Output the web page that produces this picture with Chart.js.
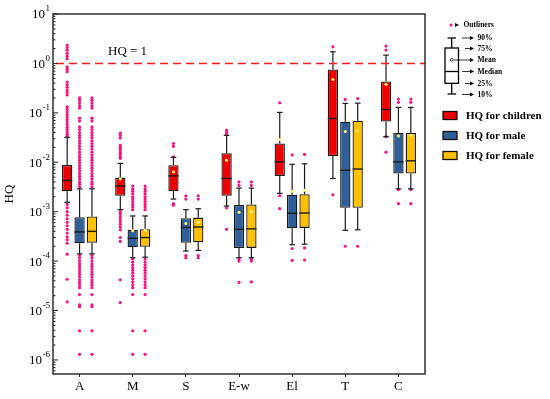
<!DOCTYPE html>
<html>
<head>
<meta charset="utf-8">
<script src="https://cdn.jsdelivr.net/npm/chart.js@4.4.0/dist/chart.umd.min.js"></script>
<style>
  html, body { margin: 0; background: #fff; }
  #wrap { width: 550px; height: 399px; }
</style>
</head>
<body>
<div id="wrap"><canvas id="grafico"></canvas></div>
<script>
const categories = ["A", "M", "S", "E-w", "El", "T", "C"];

// children
const childP10 = [1.55e-3, 1.1e-3, 1.8e-3, 1.3e-3, 2.35e-3, 4.7e-3, 0.033];
const childQ1 = [2.6e-3, 2.1e-3, 2.6e-3, 2.1e-3, 5.3e-3, 0.0133, 0.067];
const childMedian = [4.3e-3, 3.3e-3, 5.3e-3, 4.7e-3, 0.0102, 0.077, 0.117];
const childQ3 = [8.8e-3, 4.9e-3, 8.7e-3, 0.0153, 0.024, 0.757, 0.433];
const childP90 = [0.032, 9.5e-3, 0.0126, 0.035, 0.102, 1.72, 1.47];
const childMean = [null, 4.6e-3, 6.4e-3, 0.011, 0.029, 0.475, 0.38];
const childOutliers = [
  [2.35, 2.1, 1.85, 1.6, 1.4, 1.25, 0.85, 0.76, 0.68, 0.42, 0.37, 0.33, 0.29, 0.26, 0.23,
   0.133, 0.118, 0.104, 0.092, 0.082, 0.073, 0.065, 0.058, 0.051, 0.046, 0.041, 0.037, 0.034,
   1.4e-3, 1.2e-3, 1.0e-3, 8.5e-4, 7.2e-4, 6.1e-4, 5.2e-4, 4.4e-4, 3.7e-4, 3.1e-4, 2.7e-4, 2.3e-4,
   1.38e-4, 4.3e-5, 1.5e-5],
  [0.039, 0.035, 0.031, 0.022, 0.02, 0.018, 0.016, 0.0145, 0.013, 0.012,
   1.0e-3, 9.0e-4, 8.0e-4, 7.1e-4, 6.3e-4, 5.6e-4, 4.9e-4, 4.3e-4, 3.0e-4, 2.5e-4, 4.2e-5, 1.45e-5],
  [0.024, 0.021, 0.0128, 1.45e-3, 1.35e-3],
  [0.045, 0.041, 0.037, 1.2e-3, 4.4e-4],
  [0.16, 2.1e-3, 1.15e-3],
  [2.17, 2.2e-3],
  [2.24, 1.86, 0.033, 0.016]
];

// male
const maleP10 = [1.4e-4, 1.17e-4, 1.6e-4, 1.17e-4, 2.15e-4, 4.2e-4, 2.9e-3];
const maleQ1 = [2.3e-4, 1.9e-4, 2.35e-4, 1.85e-4, 4.6e-4, 1.2e-3, 5.9e-3];
const maleMedian = [3.9e-4, 2.9e-4, 4.8e-4, 4.4e-4, 9.3e-4, 6.9e-3, 0.0102];
const maleQ3 = [7.7e-4, 4.3e-4, 7.4e-4, 1.36e-3, 2.2e-3, 0.066, 0.039];
const maleP90 = [2.9e-3, 8.2e-4, 1.1e-3, 3.0e-3, 9.1e-3, 0.155, 0.129];
const maleMean = [null, 4.1e-4, 5.8e-4, 9.8e-4, 2.6e-3, 0.042, 0.034];
const maleOutliers = [
  [0.2, 0.18, 0.16, 0.14, 0.125, 0.078, 0.068, 0.052, 0.046, 0.04, 0.035, 0.031, 0.027, 0.024,
   0.021, 0.0185, 0.016, 0.014, 0.0125, 0.011, 0.0097, 0.0086, 0.0076, 0.0067, 0.0059, 0.0052,
   0.0046, 0.004, 0.0036, 0.0032,
   1.3e-4, 1.15e-4, 1.0e-4, 8.8e-5, 7.8e-5, 6.9e-5, 6.1e-5, 5.4e-5, 4.8e-5, 4.2e-5, 3.7e-5,
   3.3e-5, 2.9e-5, 2.1e-5, 1.3e-5, 1.2e-5, 3.9e-6, 1.3e-6],
  [3.3e-3, 2.9e-3, 2.6e-3, 2.3e-3, 2.0e-3, 1.8e-3, 1.6e-3, 1.4e-3, 1.25e-3, 1.1e-3,
   1.1e-4, 9.6e-5, 8.4e-5, 7.4e-5, 6.5e-5, 5.7e-5, 5.0e-5, 4.4e-5, 3.8e-5, 3.3e-5, 2.9e-5,
   2.1e-5, 3.9e-6, 1.3e-6],
  [2.1e-3, 1.8e-3, 1.3e-4, 1.17e-4],
  [4.0e-3, 3.4e-3, 1.1e-4, 1.0e-4, 3.7e-5],
  [0.0141, 1.8e-4, 1.04e-4],
  [0.187, 2.0e-4],
  [0.19, 0.163, 2.8e-3, 1.45e-3]
];

// female
const femaleP10 = [1.4e-4, 1.2e-4, 1.65e-4, 1.17e-4, 2.2e-4, 4.3e-4, 2.9e-3];
const femaleQ1 = [2.35e-4, 1.95e-4, 2.4e-4, 1.85e-4, 4.7e-4, 1.2e-3, 5.9e-3];
const femaleMedian = [4.0e-4, 3.0e-4, 4.9e-4, 4.5e-4, 9.4e-4, 7.3e-3, 0.0107];
const femaleQ3 = [8.0e-4, 4.4e-4, 7.6e-4, 1.4e-3, 2.25e-3, 0.069, 0.039];
const femaleP90 = [2.9e-3, 8.2e-4, 1.15e-3, 3.0e-3, 9.3e-3, 0.157, 0.129];
const femaleMean = [null, 4.2e-4, 6.1e-4, 1.0e-3, 2.7e-3, 0.043, 0.035];
const femaleOutliers = [
  [0.2, 0.18, 0.16, 0.14, 0.125, 0.078, 0.068, 0.052, 0.046, 0.04, 0.035, 0.031, 0.027, 0.024,
   0.021, 0.0185, 0.016, 0.014, 0.0125, 0.011, 0.0097, 0.0086, 0.0076, 0.0067, 0.0059, 0.0052,
   0.0046, 0.004, 0.0036, 0.0032,
   1.3e-4, 1.15e-4, 1.0e-4, 8.8e-5, 7.8e-5, 6.9e-5, 6.1e-5, 5.4e-5, 4.8e-5, 4.2e-5, 3.7e-5,
   3.3e-5, 2.9e-5, 2.1e-5, 1.3e-5, 1.2e-5, 3.9e-6, 1.3e-6],
  [3.3e-3, 2.9e-3, 2.6e-3, 2.3e-3, 2.0e-3, 1.8e-3, 1.6e-3, 1.4e-3, 1.25e-3, 1.1e-3,
   1.1e-4, 9.6e-5, 8.4e-5, 7.4e-5, 6.5e-5, 5.7e-5, 5.0e-5, 4.4e-5, 3.8e-5, 3.3e-5, 2.9e-5,
   2.1e-5, 3.9e-6, 1.3e-6],
  [2.1e-3, 1.8e-3, 1.3e-4, 1.17e-4],
  [4.0e-3, 3.4e-3, 1.1e-4, 1.0e-4, 3.8e-5],
  [0.0145, 1.85e-4, 1.05e-4],
  [0.195, 2.0e-4],
  [0.19, 0.163, 2.8e-3, 1.45e-3]
];

const yTickValues = [1e-6, 1e-5, 1e-4, 1e-3, 1e-2, 1e-1, 1e0, 1e1];
const yTickExponents = ["-6", "-5", "-4", "-3", "-2", "-1", "0", "1"];
const yMin = 5.2e-7;
const yMax = 10;
const hqLimit = 1;

const serif = "'Liberation Serif', 'Times New Roman', serif";
const seriesNames = ["HQ for children", "HQ for male", "HQ for female"];
const seriesColors = ["#ee0000", "#2f5f98", "#ffc000"];
const outlierColor = "#f5137f";
const meanColor = "#ffff70";

const grupos = [
  { p10: childP10, q1: childQ1, med: childMedian, q3: childQ3, p90: childP90, mean: childMean, out: childOutliers },
  { p10: maleP10, q1: maleQ1, med: maleMedian, q3: maleQ3, p90: maleP90, mean: maleMean, out: maleOutliers },
  { p10: femaleP10, q1: femaleQ1, med: femaleMedian, q3: femaleQ3, p90: femaleP90, mean: femaleMean, out: femaleOutliers }
];

function linha(ctx, x1, y1, x2, y2) {
  ctx.beginPath();
  ctx.moveTo(x1, y1);
  ctx.lineTo(x2, y2);
  ctx.stroke();
}

function seta(ctx, x1, x2, y) {
  linha(ctx, x1, y, x2 - 3, y);
  ctx.beginPath();
  ctx.moveTo(x2, y);
  ctx.lineTo(x2 - 4, y - 2);
  ctx.lineTo(x2 - 4, y + 2);
  ctx.closePath();
  ctx.fill();
}

const boxPlugin = {
  id: "boxes",
  beforeDatasetsDraw(chart) {
    const ctx = chart.ctx;
    const y = chart.scales.y;
    ctx.save();
    ctx.fillStyle = outlierColor;
    grupos.forEach((g, di) => {
      chart.getDatasetMeta(di).data.forEach((bar, i) => {
        g.out[i].forEach(v => {
          ctx.beginPath();
          ctx.arc(bar.x, y.getPixelForValue(v), 1.6, 0, Math.PI * 2);
          ctx.fill();
        });
      });
    });
    ctx.restore();
  },
  afterDatasetsDraw(chart) {
    const ctx = chart.ctx;
    const y = chart.scales.y;
    ctx.save();
    grupos.forEach((g, di) => {
      chart.getDatasetMeta(di).data.forEach((bar, i) => {
        const x = bar.x;
        const w = bar.width;
        ctx.strokeStyle = "#1a1a1a";
        ctx.lineWidth = 1.2;
        const yq1 = y.getPixelForValue(g.q1[i]);
        const yq3 = y.getPixelForValue(g.q3[i]);
        const y10 = y.getPixelForValue(g.p10[i]);
        const y90 = y.getPixelForValue(g.p90[i]);
        linha(ctx, x, yq3, x, y90);
        linha(ctx, x - 2.8, y90, x + 2.8, y90);
        linha(ctx, x, yq1, x, y10);
        linha(ctx, x - 2.8, y10, x + 2.8, y10);
        ctx.lineWidth = 1.4;
        const ym = y.getPixelForValue(g.med[i]);
        linha(ctx, x - w / 2, ym, x + w / 2, ym);
        if (g.mean[i] !== null) {
          ctx.fillStyle = meanColor;
          ctx.beginPath();
          ctx.arc(x, y.getPixelForValue(g.mean[i]), 1.5, 0, Math.PI * 2);
          ctx.fill();
        }
      });
    });
    ctx.restore();
  },
  afterDraw(chart) {
    const ctx = chart.ctx;
    const a = chart.chartArea;
    const y = chart.scales.y;
    ctx.save();

    // linha HQ = 1
    const yh = Math.round(y.getPixelForValue(hqLimit)) + 0.5;
    ctx.strokeStyle = "#ff1a1a";
    ctx.lineWidth = 1.5;
    ctx.setLineDash([8, 5]);
    linha(ctx, a.left + 3, yh, a.right, yh);
    ctx.setLineDash([]);
    ctx.fillStyle = "#000";
    ctx.font = "13px " + serif;
    ctx.textAlign = "left";
    ctx.textBaseline = "middle";
    ctx.fillText("HQ = 1", 108, 52);

    // moldura
    ctx.strokeStyle = "#222";
    ctx.lineWidth = 1.4;
    ctx.strokeRect(a.left, a.top, a.right - a.left, a.bottom - a.top);

    // ticks do eixo y (para dentro) e rótulos
    ctx.lineWidth = 1;
    for (let d = -7; d <= 1; d++) {
      for (let k = 1; k <= 9; k++) {
        const v = k * Math.pow(10, d);
        if (v < yMin || v > yMax) continue;
        const py = y.getPixelForValue(v);
        linha(ctx, a.left, py, a.left + (k === 1 ? 5 : 2.5), py);
      }
    }
    yTickValues.forEach((v, i) => {
      const py = y.getPixelForValue(v);
      ctx.font = "9px " + serif;
      ctx.textAlign = "right";
      ctx.textBaseline = "middle";
      const ew = ctx.measureText(yTickExponents[i]).width;
      ctx.fillText(yTickExponents[i], a.left - 3, py - 5);
      ctx.font = "13px " + serif;
      ctx.fillText("10", a.left - 3 - ew - 0.5, py + 1);
    });

    // legenda do box
    ctx.fillStyle = outlierColor;
    ctx.beginPath();
    ctx.arc(451, 25, 1.5, 0, Math.PI * 2);
    ctx.fill();
    ctx.fillStyle = "#000";
    ctx.beginPath();
    ctx.moveTo(459, 25);
    ctx.lineTo(455, 23);
    ctx.lineTo(455, 27);
    ctx.closePath();
    ctx.fill();
    ctx.strokeStyle = "#000";
    ctx.lineWidth = 1.3;
    linha(ctx, 451.7, 38, 451.7, 48);
    linha(ctx, 451.7, 83.3, 451.7, 94);
    linha(ctx, 447.5, 38, 456, 38);
    linha(ctx, 447.5, 94, 456, 94);
    ctx.strokeRect(445, 48, 13.5, 35.3);
    linha(ctx, 445, 71.5, 458.5, 71.5);
    ctx.lineWidth = 0.8;
    ctx.beginPath();
    ctx.arc(451.7, 59.8, 1.4, 0, Math.PI * 2);
    ctx.stroke();
    seta(ctx, 462, 474, 38);
    seta(ctx, 465, 474, 48.5);
    seta(ctx, 453.5, 474, 60);
    seta(ctx, 462, 474, 71.5);
    seta(ctx, 465, 474, 83.5);
    seta(ctx, 462, 474, 94.5);
    ctx.font = "bold 7.5px " + serif;
    ctx.textAlign = "left";
    ctx.textBaseline = "middle";
    ctx.fillText("Outliners", 463.5, 25.5);
    ctx.fillText("90%", 477.5, 38.5);
    ctx.fillText("75%", 477.5, 49);
    ctx.fillText("Mean", 477.5, 60.5);
    ctx.fillText("Median", 477.5, 72);
    ctx.fillText("25%", 477.5, 84);
    ctx.fillText("10%", 477.5, 95);

    // legenda das séries
    seriesNames.forEach((nome, i) => {
      const ly = 111.5 + i * 20;
      ctx.fillStyle = seriesColors[i];
      ctx.fillRect(443, ly, 14, 8);
      ctx.strokeStyle = "#111";
      ctx.lineWidth = 1.3;
      ctx.strokeRect(443, ly, 14, 8);
      ctx.fillStyle = "#000";
      ctx.font = "bold 11px " + serif;
      ctx.fillText(nome, 466, ly + 4.5);
    });

    ctx.restore();
  }
};

const datasets = grupos.map((g, i) => ({
  label: seriesNames[i],
  data: g.q1.map((v, j) => [v, g.q3[j]]),
  backgroundColor: seriesColors[i],
  borderColor: "#1a1a1a",
  borderWidth: 1.3,
  borderSkipped: false,
  categoryPercentage: 0.70,
  barPercentage: 0.83
}));

new Chart(document.getElementById("grafico"), {
  type: "bar",
  data: { labels: categories, datasets: datasets },
  options: {
    responsive: true,
    maintainAspectRatio: false,
    animation: false,
    layout: { padding: { left: 0, top: 14, right: 125, bottom: 0 } },
    plugins: {
      legend: { display: false },
      tooltip: { enabled: false }
    },
    scales: {
      x: {
        type: "category",
        offset: true,
        grid: { drawOnChartArea: false, offset: false, tickLength: 3, color: "#222" },
        border: { display: false },
        ticks: { color: "#000", font: { family: serif, size: 13 }, padding: 2 },
        afterFit: s => { s.height = 25; }
      },
      y: {
        type: "logarithmic",
        min: yMin,
        max: yMax,
        afterBuildTicks: s => { s.ticks = yTickValues.map(v => ({ value: v })); },
        grid: { display: false },
        border: { display: false },
        ticks: { display: false },
        title: { display: true, text: "HQ", color: "#000", font: { family: serif, size: 13 }, padding: { top: 2, bottom: 0 } },
        afterFit: s => { s.width = 53; }
      }
    }
  },
  plugins: [boxPlugin]
});
</script>
</body>
</html>
